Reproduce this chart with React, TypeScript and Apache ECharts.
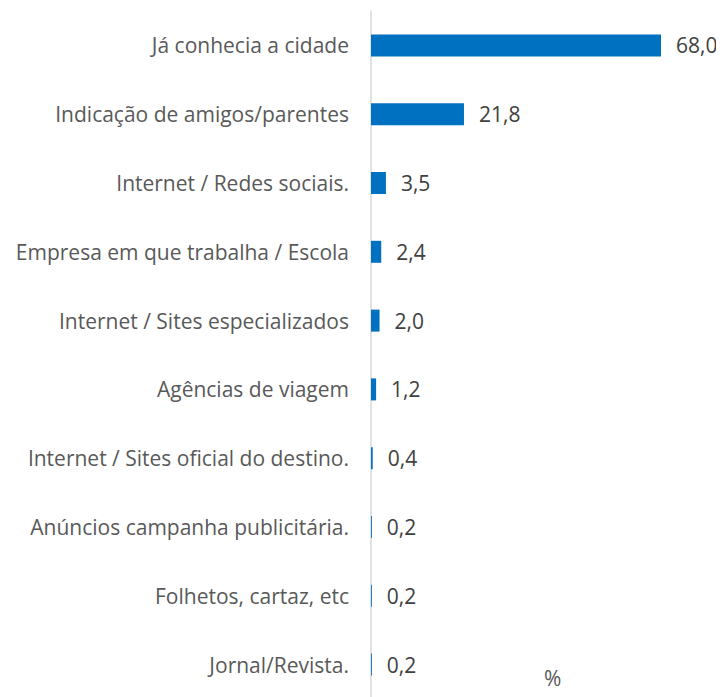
import React, { useEffect, useRef } from "react";
import * as echarts from "echarts";

const categories = [
  "Já conhecia a cidade",
  "Indicação de amigos/parentes",
  "Internet / Redes sociais.",
  "Empresa em que trabalha / Escola",
  "Internet / Sites especializados",
  "Agências de viagem",
  "Internet / Sites oficial do destino.",
  "Anúncios campanha publicitária.",
  "Folhetos, cartaz, etc",
  "Jornal/Revista.",
];
const values = [68.0, 21.8, 3.5, 2.4, 2.0, 1.2, 0.4, 0.2, 0.2, 0.2];
const unitLabel = "%";

export default function App() {
  const ref = useRef<HTMLDivElement>(null);
  useEffect(() => {
    if (!ref.current) return;
    const chart = echarts.init(ref.current, null, { renderer: "svg" });
    chart.setOption({
      animation: false,
      grid: { left: 363, right: 55, top: 3, height: 688, outerBoundsMode: "none", containLabel: false },
      xAxis: {
        type: "value",
        min: 0,
        max: 68,
        show: false,
      },
      yAxis: {
        type: "category",
        data: categories,
        inverse: true,
        axisLine: { show: true, lineStyle: { color: "#d9d9d9", width: 1.5 } },
        axisTick: { show: false },
        axisLabel: {
          color: "#595959",
          fontSize: 21,
          fontFamily: "Open Sans",
          margin: 22,
        },
      },
      series: [
        {
          type: "bar",
          data: values,
          barWidth: 22,
          itemStyle: { color: "#0070C0" },
          label: {
            show: true,
            position: "right",
            distance: 15,
            color: "#404040",
            fontSize: 21,
            fontFamily: "Open Sans",
            formatter: (p: any) => Number(p.value).toFixed(1).replace(".", ","),
          },
        },
      ],
      graphic: [
        {
          type: "text",
          left: 536,
          top: 659,
          style: { text: unitLabel, fill: "#595959", fontSize: 21, fontFamily: "Open Sans" },
        },
      ],
    });
    return () => chart.dispose();
  }, []);
  return <div ref={ref} style={{ width: 708, height: 689 }} />;
}
